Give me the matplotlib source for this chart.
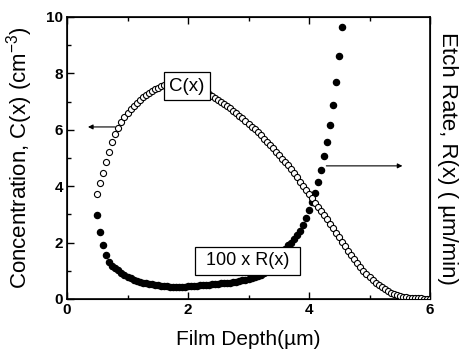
import matplotlib
matplotlib.use("Agg")
import matplotlib.pyplot as plt
from matplotlib.ticker import MultipleLocator

plt.rcParams["font.family"] = ["Liberation Sans", "DejaVu Sans"]
plt.rcParams["mathtext.fontset"] = "custom"
plt.rcParams["mathtext.rm"] = "Liberation Sans"
plt.rcParams["mathtext.default"] = "regular"

# film depth grid (um) for the concentration profile
depth_c = [0.50, 0.55, 0.60, 0.65, 0.70, 0.75, 0.80, 0.85, 0.90, 0.95,
           1.00, 1.05, 1.10, 1.15, 1.20, 1.25, 1.30, 1.35, 1.40, 1.45,
           1.50, 1.55, 1.60, 1.65, 1.70, 1.75, 1.80, 1.85, 1.90, 1.95,
           2.00, 2.05, 2.10, 2.15, 2.20, 2.25, 2.30, 2.35, 2.40, 2.45,
           2.50, 2.55, 2.60, 2.65, 2.70, 2.75, 2.80, 2.85, 2.90, 2.95,
           3.00, 3.05, 3.10, 3.15, 3.20, 3.25, 3.30, 3.35, 3.40, 3.45,
           3.50, 3.55, 3.60, 3.65, 3.70, 3.75, 3.80, 3.85, 3.90, 3.95,
           4.00, 4.05, 4.10, 4.15, 4.20, 4.25, 4.30, 4.35, 4.40, 4.45,
           4.50, 4.55, 4.60, 4.65, 4.70, 4.75, 4.80, 4.85, 4.90, 4.95,
           5.00, 5.05, 5.10, 5.15, 5.20, 5.25, 5.30, 5.35, 5.40, 5.45,
           5.50, 5.55, 5.60, 5.65, 5.70, 5.75, 5.80, 5.85, 5.90, 5.95,
           6.00]

conc = [3.72, 4.10, 4.48, 4.85, 5.20, 5.55, 5.85, 6.08, 6.28, 6.45,
        6.60, 6.73, 6.85, 6.96, 7.06, 7.15, 7.23, 7.30, 7.37, 7.43,
        7.49, 7.54, 7.59, 7.63, 7.66, 7.68, 7.70, 7.70, 7.70, 7.69,
        7.67, 7.62, 7.57, 7.51, 7.45, 7.39, 7.33, 7.27, 7.20, 7.13,
        7.06, 6.98, 6.91, 6.83, 6.76, 6.68, 6.59, 6.50, 6.41, 6.31,
        6.21, 6.11, 6.01, 5.91, 5.80, 5.69, 5.58, 5.46, 5.34, 5.22,
        5.10, 4.98, 4.87, 4.74, 4.60, 4.46, 4.31, 4.16, 4.01, 3.86,
        3.72, 3.57, 3.42, 3.27, 3.12, 2.97, 2.82, 2.66, 2.50, 2.35,
        2.19, 2.03, 1.87, 1.71, 1.55, 1.41, 1.27, 1.13, 1.00, 0.88,
        0.77, 0.67, 0.58, 0.49, 0.41, 0.34, 0.28, 0.23, 0.18, 0.14,
        0.11, 0.08, 0.06, 0.05, 0.04, 0.03, 0.02, 0.02, 0.01, 0.01,
        0.01]

# etch rate (x100) on the same grid, up to where it leaves the plot
depth_r = depth_c[:82]
rate100 = [2.98, 2.36, 1.92, 1.57, 1.32, 1.18, 1.10, 1.03, 0.93, 0.85,
           0.79, 0.73, 0.68, 0.64, 0.61, 0.58, 0.55, 0.53, 0.52, 0.50,
           0.48, 0.47, 0.46, 0.45, 0.44, 0.44, 0.44, 0.44, 0.44, 0.44,
           0.45, 0.45, 0.46, 0.47, 0.48, 0.49, 0.50, 0.51, 0.52, 0.53,
           0.54, 0.55, 0.56, 0.57, 0.58, 0.60, 0.62, 0.64, 0.66, 0.68,
           0.71, 0.74, 0.77, 0.80, 0.86, 0.93, 1.01, 1.10, 1.20, 1.32,
           1.46, 1.62, 1.78, 1.90, 2.00, 2.12, 2.26, 2.42, 2.62, 2.88,
           3.15, 3.45, 3.77, 4.16, 4.56, 5.06, 5.57, 6.18, 6.89, 7.71,
           8.62, 9.66]

fig = plt.figure(figsize=(4.67, 3.57), dpi=100)
ax = fig.add_axes([0.1435, 0.1625, 0.7773, 0.79])

ax.plot(depth_r, rate100, "o", ms=4.4, color="black", mec="black", zorder=2)
ax.plot(depth_c, conc, "o", ms=4.4, mfc="white", mec="black", mew=0.8, zorder=3)

ax.set_xlim(0, 6)
ax.set_ylim(0, 10)
ax.xaxis.set_major_locator(MultipleLocator(2))
ax.xaxis.set_minor_locator(MultipleLocator(1))
ax.yaxis.set_major_locator(MultipleLocator(2))
ax.yaxis.set_minor_locator(MultipleLocator(1))
ax.tick_params(which="both", direction="in", top=True, right=True, width=1)
ax.tick_params(which="major", length=5, labelsize=11, pad=3)
ax.tick_params(which="minor", length=3)
for lbl in ax.get_xticklabels() + ax.get_yticklabels():
    lbl.set_fontweight("bold")
for sp in ax.spines.values():
    sp.set_linewidth(1.2)

ax.set_xlabel("Film Depth(\u00b5m)", fontsize=15, labelpad=9)
ax.set_ylabel("Concentration, C(x) (cm$^{-3}$)", fontsize=16, labelpad=8)
ax2 = ax.twinx()
ax2.set_ylim(0, 10)
ax2.set_yticks([])
ax2.set_ylabel("Etch Rate, R(x) ( \u00b5m/min)", fontsize=16, rotation=270, labelpad=20)

# pointer arrows to the matching axes
ax.annotate("", xy=(0.30, 6.1), xytext=(0.84, 6.1),
            arrowprops=dict(arrowstyle="-|>", color="black", lw=0.8,
                            mutation_scale=7))
ax.annotate("", xy=(5.59, 4.72), xytext=(4.24, 4.72),
            arrowprops=dict(arrowstyle="-|>", color="black", lw=0.8,
                            mutation_scale=7))

ax.text(1.98, 7.55, "C(x)", fontsize=13.5, ha="center", va="center", zorder=5,
        bbox=dict(boxstyle="square,pad=0.28", fc="white", ec="black", lw=0.9))
ax.text(2.99, 1.35, " 100 x R(x) ", fontsize=13, ha="center", va="center", zorder=5,
        bbox=dict(boxstyle="square,pad=0.32", fc="white", ec="black", lw=0.9))

plt.savefig("out.png", dpi=100)
